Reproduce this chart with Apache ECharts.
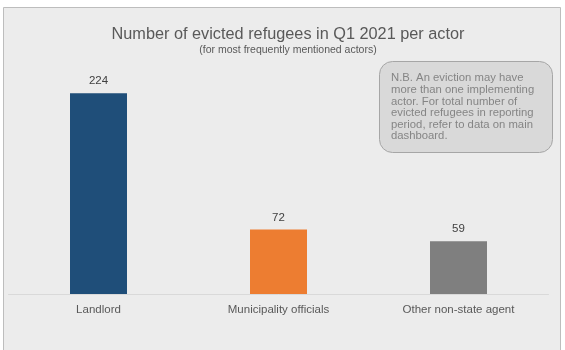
<!DOCTYPE html>
<html>
<head>
<meta charset="utf-8">
<script src="https://cdn.jsdelivr.net/npm/echarts@6/dist/echarts.min.js"></script>
<style>
  html, body { margin: 0; padding: 0; background: #ffffff; }
  #chart { width: 565px; height: 350px; }
</style>
</head>
<body>
<div id="chart"></div>
<script>
// Evicted refugees in Q1 2021, grouped by the implementing actor
const actors = ['Landlord', 'Municipality officials', 'Other non-state agent'];
const evicted = [224, 72, 59];
const barColors = ['#1f4e79', '#ed7d31', '#7f7f7f'];

const noteLines = [
  'N.B. An eviction may have',
  'more than one implementing',
  'actor. For total number of',
  'evicted refugees in reporting',
  'period, refer to data on main',
  'dashboard.'
];

const chart = echarts.init(document.getElementById('chart'), null, { renderer: 'canvas' });

chart.setOption({
  backgroundColor: '#ffffff',
  animation: false,
  textStyle: { fontFamily: 'Liberation Sans, Arial, sans-serif' },
  graphic: [
    {
      type: 'rect',
      z: -10,
      shape: { x: 3.5, y: 7.5, width: 557, height: 360 },
      style: { fill: '#ececec', stroke: '#bdbdbd', lineWidth: 1 }
    },
    {
      type: 'group',
      left: 379,
      top: 61,
      z: 10,
      children: [
        {
          type: 'rect',
          shape: { x: 0.5, y: 0.5, width: 173, height: 91, r: 13 },
          style: { fill: '#d9d9d9', stroke: '#a6a6a6', lineWidth: 1 }
        },
        {
          type: 'text',
          x: 12,
          y: 11.5,
          style: {
            text: noteLines.join('\n'),
            fill: '#858585',
            font: '11.3px "Liberation Sans", Arial, sans-serif',
            lineHeight: 11.6
          }
        }
      ]
    }
  ],
  title: {
    text: 'Number of evicted refugees in Q1 2021 per actor',
    subtext: '(for most frequently mentioned actors)',
    left: 283,
    textAlign: 'center',
    top: 22,
    itemGap: 2,
    textStyle: { color: '#595959', fontSize: 16.3, fontWeight: 'normal', fontFamily: 'Liberation Sans' },
    subtextStyle: { color: '#595959', fontSize: 10.5, fontFamily: 'Liberation Sans' }
  },
  grid: { left: 8.5, right: 16.5, top: 70, bottom: 56, containLabel: false },
  xAxis: {
    type: 'category',
    data: actors,
    axisLine: { show: true, lineStyle: { color: '#d9d9d9', width: 1 } },
    axisTick: { show: false },
    axisLabel: { color: '#595959', fontSize: 11.5, margin: 10, fontFamily: 'Liberation Sans' }
  },
  yAxis: {
    type: 'value',
    min: 0,
    max: 250,
    interval: 50,
    show: false,
    splitLine: { show: false }
  },
  series: [{
    type: 'bar',
    data: evicted.map((v, i) => ({ value: v, itemStyle: { color: barColors[i] } })),
    barWidth: 57,
    label: {
      show: true,
      position: 'top',
      distance: 6,
      color: '#404040',
      fontSize: 11.5,
      fontFamily: 'Liberation Sans'
    }
  }]
});
</script>
</body>
</html>
